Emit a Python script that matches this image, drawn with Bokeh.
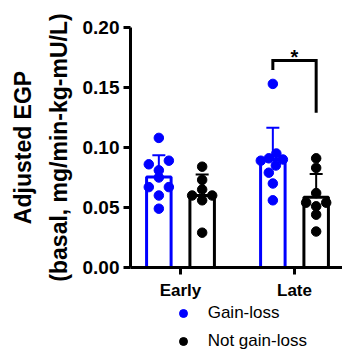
from bokeh.plotting import figure
from bokeh.layouts import column
from bokeh.models import (Range1d, FixedTicker, Whisker, ColumnDataSource, Legend,
                          LegendItem, TeeHead)
from bokeh.core.properties import value
from bokeh.embed import file_html
from bokeh.resources import INLINE

# ---------------- data ----------------
categories = ["Early", "Late"]
series = ["Gain-loss", "Not gain-loss"]
colors = ["#0000ff", "#000000"]

gain_mean = [0.0755, 0.0900]
gain_sd = [0.0180, 0.0265]
notg_mean = [0.0600, 0.0585]
notg_sd = [0.0175, 0.0195]

gain_early = [0.108, 0.086, 0.089, 0.081, 0.075, 0.067, 0.067, 0.060, 0.049]
gain_early_jit = [0, -1, 1, 0, 0, -1, 1, 0, 0]
gain_late = [0.153, 0.095, 0.089, 0.091, 0.090, 0.085, 0.079, 0.070, 0.056]
gain_late_jit = [0, 0.35, -1.2, -0.4, 1.0, 0.3, -0.4, 0, 0]
notg_early = [0.084, 0.073, 0.065, 0.060, 0.060, 0.056, 0.029]
notg_early_jit = [0, 0, 0, -1, 1, 0, 0]
notg_late = [0.091, 0.083, 0.062, 0.054, 0.054, 0.051, 0.044, 0.030]
notg_late_jit = [0, 0, 0, -1, 1, 0, 0, 0]

y_ticks = [0.0, 0.05, 0.10, 0.15, 0.20]
y_tick_labels = ["0.00", "0.05", "0.10", "0.15", "0.20"]
y_label_lines = ["Adjusted EGP", "(basal, mg/min-kg-mU/L)"]

# significance bracket (Late: Gain-loss vs Not gain-loss)
bracket_top = 0.1725
bracket_left_end = 0.1645
bracket_right_end = 0.129
sig_label = "*"

# ---------------- layout constants ----------------
OFF = 0.19     # group offset in category units
BW = 0.215     # bar width
JIT = 0.088    # jitter unit
FONT = "Liberation Sans"

p = figure(width=342, height=303,
           x_range=Range1d(-0.4386, 1.421), y_range=Range1d(0, 0.2),
           output_backend="svg", toolbar_location=None,
           min_border_left=130, min_border_right=0,
           min_border_top=27, min_border_bottom=36)
p.outline_line_color = None
p.xgrid.visible = False
p.ygrid.visible = False
p.background_fill_color = "white"
p.border_fill_color = "white"

xs = list(range(len(categories)))

# bars
p.vbar(x=[x - OFF for x in xs], top=gain_mean, width=BW, bottom=0,
       fill_color="white", line_color=colors[0], line_width=3)
p.vbar(x=[x + OFF for x in xs], top=notg_mean, width=BW, bottom=0,
       fill_color="white", line_color=colors[1], line_width=3)

# error bars
for means, sds, sign, col in [(gain_mean, gain_sd, -1, colors[0]),
                              (notg_mean, notg_sd, 1, colors[1])]:
    src = ColumnDataSource(dict(x=[x + sign * OFF for x in xs],
                                upper=[m + s for m, s in zip(means, sds)],
                                lower=[m - s for m, s in zip(means, sds)]))
    w = Whisker(source=src, base="x", upper="upper", lower="lower",
                line_color=col, line_width=2,
                upper_head=TeeHead(size=13, line_color=col, line_width=2),
                lower_head=TeeHead(size=13, line_color=col, line_width=2))
    p.add_layout(w)

# points
gx, gy, nx, ny = [], [], [], []
for vals, jit, c in [(gain_early, gain_early_jit, 0 - OFF), (gain_late, gain_late_jit, 1 - OFF)]:
    gx += [c + j * JIT for j in jit]; gy += vals
for vals, jit, c in [(notg_early, notg_early_jit, 0 + OFF), (notg_late, notg_late_jit, 1 + OFF)]:
    nx += [c + j * JIT for j in jit]; ny += vals

p.scatter(gx, gy, size=9.5, fill_color=colors[0], line_color=colors[0])
p.scatter(nx, ny, size=9.5, fill_color=colors[1], line_color=colors[1])

# significance bracket
bx0, bx1 = 1 - OFF, 1 + OFF
p.line([bx0, bx0, bx1, bx1], [bracket_left_end, bracket_top, bracket_top, bracket_right_end],
       line_color="black", line_width=3, line_join="miter")
p.text(x=[1], y=[bracket_top + 0.0032], text=[sig_label],
       text_font=value(FONT), text_font_style="bold", text_font_size="20px",
       text_align="center", text_baseline="alphabetic", text_color="black")

# axes
for ax in (p.xaxis[0], p.yaxis[0]):
    ax.axis_line_width = 3
    ax.axis_line_color = "black"
    ax.major_tick_line_width = 3
    ax.major_tick_line_color = "black"
    ax.major_tick_out = 7
    ax.major_tick_in = 0
    ax.minor_tick_line_color = None
    ax.major_label_text_font = FONT
    ax.major_label_text_font_style = "bold"
    ax.major_label_text_color = "black"

p.yaxis.ticker = FixedTicker(ticks=y_ticks)
p.yaxis.major_label_overrides = {t: l for t, l in zip(y_ticks, y_tick_labels)}
p.yaxis.major_label_text_font_size = "19px"
p.yaxis.major_label_standoff = 4
p.yaxis.axis_label = "\n".join(y_label_lines)
p.yaxis.axis_label_text_font = FONT
p.yaxis.axis_label_text_font_style = "bold"
p.yaxis.axis_label_text_font_size = "23px"
p.yaxis.axis_label_text_color = "black"
p.yaxis.axis_label_text_line_height = 1.35
p.yaxis.axis_label_standoff = 8

p.xaxis.ticker = FixedTicker(ticks=xs)
p.xaxis.major_label_overrides = {x: c for x, c in zip(xs, categories)}
p.xaxis.major_label_text_font_size = "17px"
p.xaxis.major_label_standoff = 6

# ---------------- legend strip under the chart ----------------
lg = figure(width=342, height=46, x_range=Range1d(0, 1), y_range=Range1d(0, 1),
            output_backend="svg", toolbar_location=None,
            x_axis_type=None, y_axis_type=None,
            min_border_left=0, min_border_right=0, min_border_top=0, min_border_bottom=0)
lg.outline_line_color = None
lg.xgrid.visible = False
lg.ygrid.visible = False
lg.background_fill_color = "white"
lg.border_fill_color = "white"
# key renderers: one off-range point each so the legend has a marker to draw
k_gain = lg.scatter([-5], [-5], fill_color=colors[0], line_color=colors[0])
k_notg = lg.scatter([-5], [-5], fill_color=colors[1], line_color=colors[1])
# the column aligns this strip's frame with the chart frame (left edge at x = 130)
legend = Legend(items=[LegendItem(label=series[0], renderers=[k_gain]),
                       LegendItem(label=series[1], renderers=[k_notg])],
                location=(42.7, -2.3), orientation="vertical",
                border_line_color=None, background_fill_alpha=0,
                padding=0, margin=0, spacing=8,
                glyph_width=20, glyph_height=20, label_height=20,
                label_standoff=15, label_text_font=FONT,
                label_text_font_size="17px", label_text_color="black")
lg.add_layout(legend)

layout = column(p, lg, spacing=0)
open("out.html", "w").write(file_html(layout, INLINE))
